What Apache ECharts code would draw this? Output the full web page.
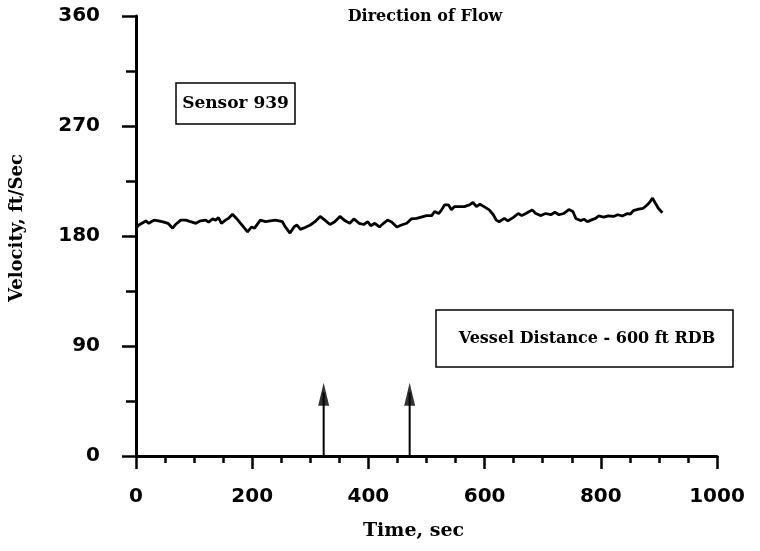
<!DOCTYPE html>
<html>
<head>
<meta charset="utf-8">
<script src="https://cdn.jsdelivr.net/npm/echarts@6/dist/echarts.min.js"></script>
<style>html,body{margin:0;padding:0;background:#fff}#c{width:760px;height:551px}</style>
</head>
<body>
<div id="c"></div>
<script>
const times = [0,5,17,22,31,39,48,55,63,68,77,86,94,103,111,120,125,132,137,142,147,154,159,166,173,180,185,192,199,204,214,223,231,240,252,257,265,272,277,283,291,300,308,317,325,334,342,351,360,368,375,384,392,399,404,411,419,426,433,440,449,457,466,474,483,491,500,509,514,521,526,531,538,543,548,557,565,574,580,586,592,599,608,615,620,625,634,640,649,658,664,671,682,688,697,705,714,721,728,736,745,752,757,765,771,777,783,791,796,805,813,822,829,837,846,851,856,865,873,880,885,889,894,899,906];
const velocity = [186.5,189,192.3,190.4,193,192.4,191.4,190.4,186.4,189.4,193,193,191.7,190.4,192.4,193,191.4,194,193,195,190.4,193,194.4,197.8,194.4,190.4,187.4,183.4,187.4,186.4,193,191.7,192.4,193,191.7,187.4,182.4,187.4,189,185.4,187,189,191.7,196,193,189.4,191.7,196,192.4,190.4,194,190.4,189.4,191.7,188.4,190.4,187.4,190.4,193,191.4,187.4,189,190.4,194,194.4,195.5,196.7,196.7,200,198.4,201.4,205.4,205.4,201.4,204,204,204,205.4,207.4,204,206,204,201.4,197.4,193,191.7,194.4,192.4,195,198.4,196.7,198.4,201.4,198.4,196.7,198.4,197.4,199.4,197.4,198.4,201.6,200,194.4,192.6,193.7,191.7,193,194.4,196.4,195.4,196.4,196,197.4,196.4,198.4,198,200.8,202,202.7,205.4,208.2,211,206.8,202.7,199];
const arrowTimes = [323, 471];
const arrowTop = 60;
const yTicks = [0, 90, 180, 270, 360];
const xTicks = [0, 200, 400, 600, 800, 1000];
const titleText = "Direction of Flow";
const sensorText = "Sensor 939";
const vesselText = "Vessel Distance - 600 ft RDB";
const xName = "Time, sec";
const yName = "Velocity, ft/Sec";

const chart = echarts.init(document.getElementById('c'), null, {renderer: 'canvas'});
const serif = '"DejaVu Serif", "Liberation Serif", serif';
const sans = '"DejaVu Sans", sans-serif';

const series = [{
  type: 'line',
  data: times.map((t, i) => [t, velocity[i]]),
  showSymbol: false,
  lineStyle: {color: '#000', width: 2.8},
  z: 3
}];
arrowTimes.forEach(t => {
  series.push({
    type: 'line',
    data: [[t, 0], [t, arrowTop - 8]],
    showSymbol: false,
    lineStyle: {color: '#000', width: 2},
    z: 2
  });
  series.push({
    type: 'scatter',
    data: [[t, arrowTop]],
    symbol: 'triangle',
    symbolSize: [11, 23],
    symbolOffset: [0, '50%'],
    itemStyle: {color: '#000'},
    z: 4
  });
});

chart.setOption({
  animation: false,
  backgroundColor: '#fff',
  title: {
    text: titleText,
    left: 420, top: 4,
    textAlign: 'center',
    textStyle: {fontFamily: serif, fontWeight: 'bold', fontSize: 16, color: '#000'}
  },
  grid: {left: 133, right: 43, top: 16, bottom: 95},
  xAxis: {
    type: 'value', min: xTicks[0], max: xTicks[xTicks.length - 1], interval: 200,
    name: xName, nameLocation: 'middle', nameGap: 66,
    nameTextStyle: {fontFamily: serif, fontWeight: 'bold', fontSize: 19, color: '#000', padding: [0, 26, 0, 0]},
    axisLine: {show: true, onZero: false, lineStyle: {color: '#000', width: 3}},
    axisTick: {show: true, length: 13, lineStyle: {color: '#000', width: 2.5}},
    minorTick: {show: true, splitNumber: 4, length: 7, lineStyle: {color: '#000', width: 2.5}},
    splitLine: {show: false},
    axisLabel: {fontFamily: sans, fontWeight: 'bold', fontSize: 20, color: '#000', margin: 31,
      formatter: v => String(v)}
  },
  yAxis: {
    type: 'value', min: yTicks[0], max: yTicks[yTicks.length - 1], interval: 90,
    name: yName, nameLocation: 'middle', nameGap: 110, nameRotate: 90,
    nameTextStyle: {fontFamily: serif, fontWeight: 'bold', fontSize: 18, color: '#000', padding: [0, 0, 0, 16]},
    axisLine: {show: true, onZero: false, lineStyle: {color: '#000', width: 3}},
    axisTick: {show: true, length: 14, lineStyle: {color: '#000', width: 2.5}},
    minorTick: {show: true, splitNumber: 2, length: 10, lineStyle: {color: '#000', width: 2.5}},
    splitLine: {show: false},
    axisLabel: {fontFamily: sans, fontWeight: 'bold', fontSize: 20, color: '#000', margin: 36,
      formatter: v => String(v)}
  },
  graphic: [
    {type: 'rect', shape: {x: 176, y: 83, width: 119, height: 41},
     style: {fill: '#fff', stroke: '#000', lineWidth: 1.5}, z: 10},
    {type: 'text', x: 235.5, y: 104,
     style: {text: sensorText, fill: '#000', font: 'bold 17px ' + serif, align: 'center', verticalAlign: 'middle'}, z: 11},
    {type: 'rect', shape: {x: 436, y: 310, width: 297, height: 57},
     style: {fill: '#fff', stroke: '#000', lineWidth: 1.5}, z: 10},
    {type: 'text', x: 587, y: 339,
     style: {text: vesselText, fill: '#000', font: 'bold 16px ' + serif, align: 'center', verticalAlign: 'middle'}, z: 11}
  ],
  series: series
});
</script>
</body>
</html>
